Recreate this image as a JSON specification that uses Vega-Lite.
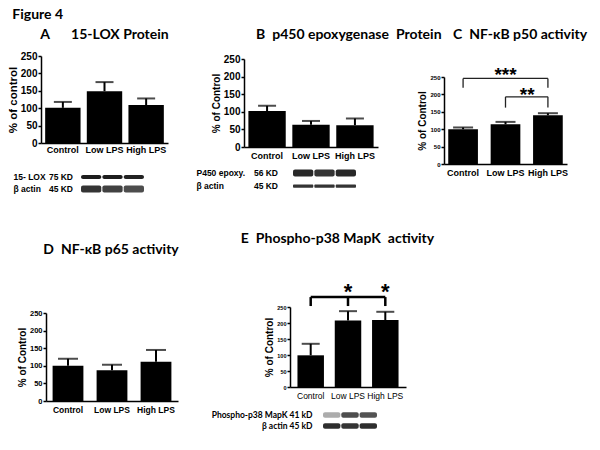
{
  "$schema": "https://vega.github.io/schema/vega-lite/v6.json",
  "background": "white",
  "padding": {"left": 7, "top": 8, "right": 5, "bottom": 5},
  "title": {"text": "Figure 4", "anchor": "start", "font": "Lato", "fontSize": 14, "fontWeight": "bold", "offset": 6, "dx": 5},
  "spacing": 37,
  "vconcat": [
    {
      "hconcat": [
        {
          "width": 127, "height": 87,
          "title": {"text": "A\u2002\u2002\u200215-LOX Protein", "anchor": "middle", "frame": "group", "offset": 9},
          "layer": [
            {
              "data": {"values": [
                {"group": "Control", "value": 101, "upper": 118},
                {"group": "Low LPS", "value": 149, "upper": 175},
                {"group": "High LPS", "value": 109, "upper": 128}
              ]},
              "encoding": {
                "x": {"field": "group", "type": "nominal", "sort": null, "scale": {"domain": ["Control", "Low LPS", "High LPS"], "paddingInner": 0.15, "paddingOuter": 0.1}, "axis": {"title": null, "labelFontSize": 9, "labelPadding": 2}},
                "y": {"field": "value", "type": "quantitative", "scale": {"domain": [0, 250], "nice": false}, "axis": {"values": [0, 50, 100, 150, 200, 250], "title": "% of control", "titleFontSize": 11.5, "labelFontSize": 10}}
              },
              "layer": [
                {"mark": {"type": "bar", "color": "black"}},
                {"mark": {"type": "rule", "color": "black", "strokeWidth": 2}, "encoding": {"y2": {"field": "upper"}}},
                {"mark": {"type": "tick", "color": "black", "thickness": 2, "size": 18}, "encoding": {"y": {"field": "upper", "type": "quantitative", "axis": {"values": [0, 50, 100, 150, 200, 250], "title": "% of control", "titleFontSize": 11.5, "labelFontSize": 10}}}}
              ]
            },
            {
              "data": {"values": [
                {"lane": "Control", "row": "15- LOX", "kd": "75 KD", "density": 0.95},
                {"lane": "Low LPS", "row": "15- LOX", "kd": "75 KD", "density": 0.95},
                {"lane": "High LPS", "row": "15- LOX", "kd": "75 KD", "density": 0.93},
                {"lane": "Control", "row": "β actin", "kd": "45 KD", "density": 0.85},
                {"lane": "Low LPS", "row": "β actin", "kd": "45 KD", "density": 0.8},
                {"lane": "High LPS", "row": "β actin", "kd": "45 KD", "density": 0.75}
              ]},
              "encoding": {
                "x": {"field": "lane", "type": "nominal", "sort": null, "scale": {"domain": ["Control", "Low LPS", "High LPS"], "range": [40, 103], "paddingInner": 0.05, "paddingOuter": 0}, "axis": null},
                "y": {"field": "row", "type": "nominal", "sort": null, "scale": {"domain": ["15- LOX", "β actin"], "range": [115, 139], "paddingInner": 0, "paddingOuter": 0}, "axis": {"orient": "left", "offset": 28, "labelAlign": "left", "labelPadding": 0, "ticks": false, "domain": false, "title": null, "labelFontSize": 8.5}}
              },
              "layer": [
                {"transform": [{"filter": "datum.row === '15- LOX'"}], "mark": {"type": "rect", "color": "#111111", "height": {"band": 0.35}, "cornerRadius": 2}, "encoding": {"opacity": {"field": "density", "type": "quantitative", "scale": {"domain": [0, 1], "range": [0, 1]}, "legend": null}}},
                {"transform": [{"filter": "datum.row === 'β actin'"}], "mark": {"type": "rect", "color": "#111111", "height": {"band": 0.6}, "cornerRadius": 2}, "encoding": {"opacity": {"field": "density", "type": "quantitative", "scale": {"domain": [0, 1], "range": [0, 1]}, "legend": null}}},
                {"transform": [{"filter": "datum.lane === 'Control'"}], "mark": {"type": "text", "align": "right", "dx": -8, "fontWeight": "bold", "fontSize": 8.5, "font": "Liberation Sans"}, "encoding": {"x": {"field": "lane", "type": "nominal", "sort": null, "bandPosition": 0}, "text": {"field": "kd"}}}
              ]
            }
          ],
          "resolve": {"scale": {"x": "independent", "y": "independent"}, "axis": {"x": "independent", "y": "independent"}}
        },
        {
          "width": 124, "height": 91,
          "title": {"text": "B\u2002p450 epoxygenase\u2002Protein", "anchor": "start", "frame": "group", "dx": 12, "offset": 12},
          "layer": [
            {
              "data": {"values": [
                {"group": "Control", "value": 102, "upper": 117},
                {"group": "Low LPS", "value": 63, "upper": 74},
                {"group": "High LPS", "value": 62, "upper": 81}
              ]},
              "encoding": {
                "x": {"field": "group", "type": "nominal", "sort": null, "scale": {"domain": ["Control", "Low LPS", "High LPS"], "range": [0, 134], "paddingInner": 0.15, "paddingOuter": 0.1}, "axis": {"title": null, "labelFontSize": 9}},
                "y": {"field": "value", "type": "quantitative", "scale": {"domain": [0, 250], "nice": false, "range": [91, 3]}, "axis": {"values": [0, 50, 100, 150, 200, 250], "title": "% of Control", "titleFontSize": 10, "labelFontSize": 10}}
              },
              "layer": [
                {"mark": {"type": "bar", "color": "black"}},
                {"mark": {"type": "rule", "color": "black", "strokeWidth": 2}, "encoding": {"y2": {"field": "upper"}}},
                {"mark": {"type": "tick", "color": "black", "thickness": 2, "size": 18}, "encoding": {"y": {"field": "upper", "type": "quantitative", "axis": {"values": [0, 50, 100, 150, 200, 250], "title": "% of Control", "titleFontSize": 10, "labelFontSize": 10}}}}
              ]
            },
            {
              "data": {"values": [
                {"lane": "Control", "row": "P450 epoxy.", "kd": "56 KD", "density": 0.9},
                {"lane": "Low LPS", "row": "P450 epoxy.", "kd": "56 KD", "density": 0.85},
                {"lane": "High LPS", "row": "P450 epoxy.", "kd": "56 KD", "density": 0.9},
                {"lane": "Control", "row": "β actin", "kd": "45 KD", "density": 0.85},
                {"lane": "Low LPS", "row": "β actin", "kd": "45 KD", "density": 0.85},
                {"lane": "High LPS", "row": "β actin", "kd": "45 KD", "density": 0.85}
              ]},
              "encoding": {
                "x": {"field": "lane", "type": "nominal", "sort": null, "scale": {"domain": ["Control", "Low LPS", "High LPS"], "range": [49, 112], "paddingInner": 0.05, "paddingOuter": 0}, "axis": null},
                "y": {"field": "row", "type": "nominal", "sort": null, "scale": {"domain": ["P450 epoxy.", "β actin"], "range": [110.5, 136.5], "paddingInner": 0, "paddingOuter": 0}, "axis": {"orient": "left", "offset": 48, "labelAlign": "left", "labelPadding": 0, "ticks": false, "domain": false, "title": null, "labelFontSize": 8.5}}
              },
              "layer": [
                {"transform": [{"filter": "datum.row === 'P450 epoxy.'"}], "mark": {"type": "rect", "color": "#111111", "height": {"band": 0.55}, "cornerRadius": 2}, "encoding": {"opacity": {"field": "density", "type": "quantitative", "scale": {"domain": [0, 1], "range": [0, 1]}, "legend": null}}},
                {"transform": [{"filter": "datum.row === 'β actin'"}], "mark": {"type": "rect", "color": "#111111", "height": {"band": 0.25}, "cornerRadius": 1}, "encoding": {"opacity": {"field": "density", "type": "quantitative", "scale": {"domain": [0, 1], "range": [0, 1]}, "legend": null}}},
                {"transform": [{"filter": "datum.lane === 'Control'"}], "mark": {"type": "text", "align": "right", "dx": -15, "fontWeight": "bold", "fontSize": 8.5, "font": "Liberation Sans"}, "encoding": {"x": {"field": "lane", "type": "nominal", "sort": null, "bandPosition": 0}, "text": {"field": "kd"}}}
              ]
            }
          ],
          "resolve": {"scale": {"x": "independent", "y": "independent"}, "axis": {"x": "independent", "y": "independent"}}
        },
        {
          "width": 123, "height": 108,
          "title": {"text": "C\u2002NF-κB p50 activity", "anchor": "start", "frame": "group", "dx": 9, "offset": 14},
          "encoding": {
            "x": {"field": "group", "type": "nominal", "sort": null, "scale": {"domain": ["Control", "Low LPS", "High LPS"], "paddingInner": 0.3, "paddingOuter": 0.1}, "axis": {"title": null, "labelFontSize": 9}}
          },
          "layer": [
            {
              "data": {"values": [
                {"group": "Control", "value": 100, "upper": 105},
                {"group": "Low LPS", "value": 114, "upper": 121},
                {"group": "High LPS", "value": 140, "upper": 146}
              ]},
              "encoding": {
                "y": {"field": "value", "type": "quantitative", "scale": {"domain": [0, 250], "nice": false, "range": [108, 21]}, "axis": {"values": [0, 50, 100, 150, 200, 250], "title": "% of Control", "titleFontSize": 10, "labelFontSize": 6}}
              },
              "layer": [
                {"mark": {"type": "bar", "color": "black"}},
                {"mark": {"type": "rule", "color": "black", "strokeWidth": 2}, "encoding": {"y2": {"field": "upper"}}},
                {"mark": {"type": "tick", "color": "black", "thickness": 2, "size": 20}, "encoding": {"y": {"field": "upper", "type": "quantitative", "axis": {"values": [0, 50, 100, 150, 200, 250], "title": "% of Control", "titleFontSize": 10, "labelFontSize": 6}}}}
              ]
            },
            {
              "data": {"values": [
                {"group": "Control", "to": "High LPS", "level": 246},
                {"group": "Low LPS", "to": "High LPS", "level": 193}
              ]},
              "mark": {"type": "rule", "color": "#222", "strokeWidth": 1.3},
              "encoding": {"x2": {"field": "to"}, "y": {"field": "level", "type": "quantitative", "axis": {"values": [0, 50, 100, 150, 200, 250], "title": "% of Control", "titleFontSize": 10, "labelFontSize": 6}}}
            },
            {
              "data": {"values": [
                {"group": "Control", "low": 219, "level": 246},
                {"group": "High LPS", "low": 219, "level": 246},
                {"group": "Low LPS", "low": 162, "level": 193},
                {"group": "High LPS", "low": 162, "level": 193}
              ]},
              "mark": {"type": "rule", "color": "#222", "strokeWidth": 1.3},
              "encoding": {"y": {"field": "low", "type": "quantitative", "axis": {"values": [0, 50, 100, 150, 200, 250], "title": "% of Control", "titleFontSize": 10, "labelFontSize": 6}}, "y2": {"field": "level"}}
            },
            {
              "data": {"values": [{"group": "Low LPS", "level": 270, "stars": "***"}]},
              "mark": {"type": "text", "fontSize": 19, "fontWeight": "bold", "font": "Liberation Sans", "baseline": "alphabetic", "dy": 11},
              "encoding": {"y": {"field": "level", "type": "quantitative", "axis": {"values": [0, 50, 100, 150, 200, 250], "title": "% of Control", "titleFontSize": 10, "labelFontSize": 6}}, "text": {"field": "stars"}}
            },
            {
              "data": {"values": [{"group": "Low LPS", "level": 212, "stars": "**"}]},
              "mark": {"type": "text", "fontSize": 19, "fontWeight": "bold", "font": "Liberation Sans", "baseline": "alphabetic", "dy": 11},
              "encoding": {"x": {"field": "group", "type": "nominal", "sort": null, "bandPosition": 1.23}, "y": {"field": "level", "type": "quantitative", "axis": {"values": [0, 50, 100, 150, 200, 250], "title": "% of Control", "titleFontSize": 10, "labelFontSize": 6}}, "text": {"field": "stars"}}
            }
          ]
        }
      ],
      "spacing": 76,
      "bounds": "flush"
    },
    {
      "hconcat": [
        {
          "width": 132, "height": 94,
          "title": {"text": "D\u2002NF-κB p65 activity", "anchor": "middle", "frame": "group", "dx": 4, "offset": 50},
          "data": {"values": [
            {"group": "Control", "value": 100, "upper": 120},
            {"group": "Low LPS", "value": 87.5, "upper": 103},
            {"group": "High LPS", "value": 111.5, "upper": 145}
          ]},
          "encoding": {
            "x": {"field": "group", "type": "nominal", "sort": null, "scale": {"domain": ["Control", "Low LPS", "High LPS"], "range": [5, 137], "paddingInner": 0.3, "paddingOuter": 0.15}, "axis": {"title": null, "labelFontSize": 8.5}},
            "y": {"field": "value", "type": "quantitative", "scale": {"domain": [0, 250], "nice": false, "range": [94, 6]}, "axis": {"values": [0, 50, 100, 150, 200, 250], "title": "% of Control", "titleFontSize": 10, "labelFontSize": 7.5, "offset": -5}}
          },
          "layer": [
            {"mark": {"type": "bar", "color": "black"}},
            {"mark": {"type": "rule", "color": "black", "strokeWidth": 2}, "encoding": {"y2": {"field": "upper"}}},
            {"mark": {"type": "tick", "color": "black", "thickness": 2, "size": 20}, "encoding": {"y": {"field": "upper", "type": "quantitative", "axis": {"values": [0, 50, 100, 150, 200, 250], "title": "% of Control", "titleFontSize": 10, "labelFontSize": 7.5, "offset": -5}}}}
          ]
        },
        {
          "width": 113, "height": 80,
          "title": {"text": "E\u2002Phospho-p38 MapK\u2002activity", "anchor": "middle", "frame": "group", "dx": -9, "offset": 35},
          "layer": [
            {
              "encoding": {
                "x": {"field": "group", "type": "nominal", "sort": null, "scale": {"domain": ["Control", "Low LPS", "High LPS"], "range": [0, 116], "paddingInner": 0.29, "paddingOuter": 0.2}, "axis": {"title": null, "labelFontSize": 8.5, "labelFontWeight": "normal"}}
              },
              "layer": [
                {
                  "data": {"values": [
                    {"group": "Control", "value": 99, "upper": 135},
                    {"group": "Low LPS", "value": 208, "upper": 237},
                    {"group": "High LPS", "value": 209, "upper": 235}
                  ]},
                  "encoding": {
                    "y": {"field": "value", "type": "quantitative", "scale": {"domain": [0, 250], "nice": false}, "axis": {"values": [0, 50, 100, 150, 200, 250], "title": "% of Control", "titleFontSize": 10, "labelFontSize": 5.5}}
                  },
                  "layer": [
                    {"mark": {"type": "bar", "color": "black"}},
                    {"mark": {"type": "rule", "color": "black", "strokeWidth": 2}, "encoding": {"y2": {"field": "upper"}}},
                    {"mark": {"type": "tick", "color": "black", "thickness": 2, "size": 18}, "encoding": {"y": {"field": "upper", "type": "quantitative", "axis": {"values": [0, 50, 100, 150, 200, 250], "title": "% of Control", "titleFontSize": 10, "labelFontSize": 5.5}}}}
                  ]
                },
                {
                  "data": {"values": [{"group": "Control", "to": "High LPS", "level": 281}]},
                  "mark": {"type": "rule", "color": "black", "strokeWidth": 2.5},
                  "encoding": {"x2": {"field": "to"}, "y": {"field": "level", "type": "quantitative", "axis": {"values": [0, 50, 100, 150, 200, 250], "title": "% of Control", "titleFontSize": 10, "labelFontSize": 5.5}}}
                },
                {
                  "data": {"values": [
                    {"group": "Control", "low": 253, "level": 281},
                    {"group": "Low LPS", "low": 253, "level": 281},
                    {"group": "High LPS", "low": 253, "level": 281}
                  ]},
                  "mark": {"type": "rule", "color": "black", "strokeWidth": 2.5},
                  "encoding": {"y": {"field": "low", "type": "quantitative", "axis": {"values": [0, 50, 100, 150, 200, 250], "title": "% of Control", "titleFontSize": 10, "labelFontSize": 5.5}}, "y2": {"field": "level"}}
                },
                {
                  "data": {"values": [
                    {"group": "Low LPS", "level": 316, "stars": "*"},
                    {"group": "High LPS", "level": 316, "stars": "*"}
                  ]},
                  "mark": {"type": "text", "fontSize": 22, "fontWeight": "bold", "font": "Liberation Sans", "baseline": "alphabetic", "dy": 13},
                  "encoding": {"y": {"field": "level", "type": "quantitative", "axis": {"values": [0, 50, 100, 150, 200, 250], "title": "% of Control", "titleFontSize": 10, "labelFontSize": 5.5}}, "text": {"field": "stars"}}
                }
              ]
            },
            {
              "data": {"values": [
                {"lane": "Control", "row": "Phospho-p38 MapK 41 kD", "density": 0.35},
                {"lane": "Low LPS", "row": "Phospho-p38 MapK 41 kD", "density": 0.75},
                {"lane": "High LPS", "row": "Phospho-p38 MapK 41 kD", "density": 0.72},
                {"lane": "Control", "row": "β actin 45 kD", "density": 0.88},
                {"lane": "Low LPS", "row": "β actin 45 kD", "density": 0.85},
                {"lane": "High LPS", "row": "β actin 45 kD", "density": 0.88}
              ]},
              "mark": {"type": "rect", "color": "#111111", "height": {"band": 0.5}, "cornerRadius": 2},
              "encoding": {
                "x": {"field": "lane", "type": "nominal", "sort": null, "scale": {"domain": ["Control", "Low LPS", "High LPS"], "range": [33, 87], "paddingInner": 0.05, "paddingOuter": 0}, "axis": null},
                "y": {"field": "row", "type": "nominal", "sort": null, "scale": {"domain": ["Phospho-p38 MapK 41 kD", "β actin 45 kD"], "range": [102.5, 124.5], "paddingInner": 0, "paddingOuter": 0}, "axis": {"orient": "left", "offset": -24, "labelPadding": 2, "ticks": false, "domain": false, "title": null, "labelFontSize": 8.5, "labelFont": "Lato"}},
                "opacity": {"field": "density", "type": "quantitative", "scale": {"domain": [0, 1], "range": [0, 1]}, "legend": null}
              }
            }
          ],
          "resolve": {"scale": {"x": "independent", "y": "independent"}, "axis": {"x": "independent", "y": "independent"}}
        }
      ],
      "spacing": 117,
      "bounds": "flush"
    }
  ],
  "config": {
    "view": {"stroke": null},
    "font": "Liberation Sans",
    "axis": {"domainColor": "black", "domainWidth": 1.5, "tickColor": "black", "tickWidth": 1.5, "tickSize": 3, "labelColor": "black", "titleColor": "black", "labelFont": "Liberation Sans", "titleFont": "Liberation Sans", "labelFontWeight": "bold", "titleFontWeight": "bold", "grid": false, "labelPadding": 1, "titlePadding": 2, "labelOverlap": false},
    "axisX": {"ticks": false, "labelAngle": 0, "labelPadding": 4},
    "title": {"font": "Lato", "fontSize": 14, "fontWeight": "bold", "color": "black"}
  }
}
